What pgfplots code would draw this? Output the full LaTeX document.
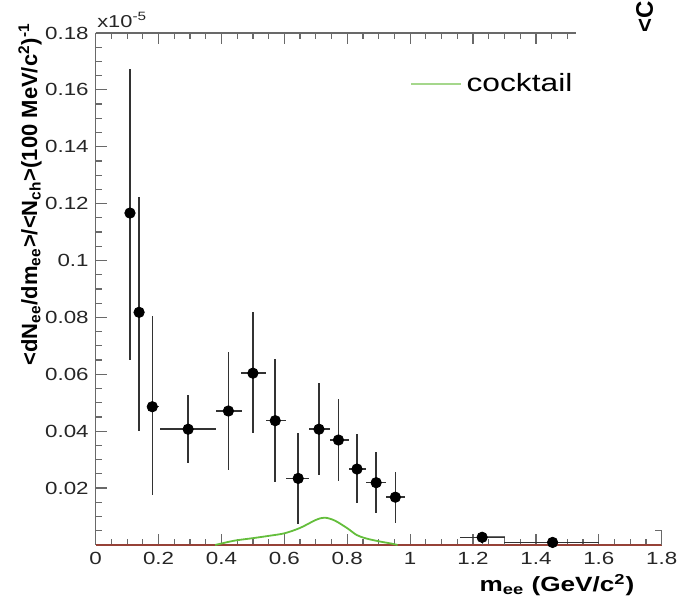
\documentclass[border=0pt]{standalone}
\usepackage{fontspec}
\setmainfont{Liberation Sans}[FakeStretch=1.27]
\newfontfamily\ylfont{Liberation Sans}
\usepackage{pgfplots}
\pgfplotsset{compat=1.18}
\usepackage{pgfplotstable}
\definecolor{axiscol}{RGB}{105,105,105}
\definecolor{zerocol}{RGB}{150,65,55}
\definecolor{cockcol}{RGB}{100,190,60}
\definecolor{leglcol}{RGB}{165,215,140}
\definecolor{errcol}{RGB}{50,50,50}

\pgfplotstableread{
x     y      exm    exp    eym    eyp
0.109 0.1167 0      0      0.0517 0.0507
0.138 0.0818 0      0      0.0416 0.0406
0.180 0.0486 0.015  0.022  0.0310 0.0320
0.294 0.0407 0.090  0.090  0.0120 0.0120
0.422 0.0471 0.038  0.043  0.0207 0.0209
0.500 0.0604 0.037  0.043  0.0211 0.0214
0.571 0.0437 0.028  0.033  0.0214 0.0217
0.644 0.0234 0.040  0.034  0.0160 0.0161
0.710 0.0407 0.032  0.034  0.0161 0.0162
0.772 0.0369 0.028  0.033  0.0144 0.0143
0.831 0.0267 0.026  0.029  0.0118 0.0122
0.892 0.0219 0.032  0.032  0.0108 0.0109
0.953 0.0168 0.029  0.032  0.0092 0.0088
1.229 0.0027 0.069  0.073  0.0020 0.0020
1.453 0.0009 0.153  0.147  0.0009 0.0010
}\datatable

\pgfplotstableread{
x     y
0.38  0.0000
0.44  0.0015
0.50  0.0024
0.55  0.0032
0.60  0.0041
0.65  0.0060
0.70  0.0088
0.728 0.0096
0.76  0.0086
0.80  0.0059
0.83  0.0035
0.86  0.0023
0.90  0.0013
0.94  0.0005
0.96  0.0000
}\cocktail

\begin{document}
\begin{tikzpicture}
\useasboundingbox (-47.85pt,-26pt) rectangle ++(338.5pt,298.5pt);
\begin{axis}[
  at={(0,0)}, anchor=south west,
  scale only axis, width=283pt, height=256pt,
  xmin=0, xmax=1.8, ymin=0, ymax=0.18,
  axis x line=bottom, axis y line=left,
  axis line style={-, draw=axiscol, line width=0.6pt},
  tick align=inside,
  xtick={0,0.2,0.4,0.6,0.8,1,1.2,1.4,1.6,1.8},
  xticklabels={0,0.2,0.4,0.6,0.8,1,1.2,1.4,1.6,1.8},
  minor x tick num=3,
  ytick={0,0.02,0.04,0.06,0.08,0.1,0.12,0.14,0.16,0.18},
  yticklabels={,0.02,0.04,0.06,0.08,0.1,0.12,0.14,0.16,0.18},
  minor y tick num=3,
  major tick length=5.5pt, minor tick length=3pt,
  tick style={color=axiscol, line width=0.6pt},
  /pgf/number format/assume math mode=true,
  tick label style={font=\fontsize{8.8}{10}\selectfont, text=black!85},
  xlabel={\textbf{m\textsubscript{ee} (GeV/c\textsuperscript{2})}},
  xlabel style={at={(axis description cs:0.815,-0.078)}, anchor=center, font=\fontsize{10.3}{12}\selectfont},
  ylabel={\textbf{<dN\textsubscript{ee}/dm\textsubscript{ee}>/<N\textsubscript{ch}>(100 MeV/c\textsuperscript{2})\textsuperscript{-1}}},
  ylabel style={at={(axis description cs:-0.116,0.685)}, anchor=center, font=\ylfont\fontsize{11}{13}\selectfont},
  clip=false,
  legend style={at={(axis cs:0.998,0.1621)}, anchor=west, draw=none, fill=none,
    inner sep=0pt, font=\fontsize{12.5}{14}\selectfont},
  legend cell align=left,
  legend image code/.code={\draw[leglcol, line width=1.3pt] (0pt,0pt) -- (25pt,0pt);},
]
\addplot[zerocol, line width=0.8pt, forget plot] coordinates {(0,0) (1.8,0)};
\addplot[cockcol, line width=0.9pt, smooth] table[x=x, y=y] {\cocktail};
\addlegendentry{cocktail}
\addplot[axiscol, line width=0.5pt, forget plot] coordinates {(1.23,0) (1.23,0.0030) (1.30,0.0030) (1.30,0)};
\addplot[only marks, mark=*, mark size=2.6pt, black, forget plot,
  error bars/.cd, x dir=both, x explicit, y dir=both, y explicit,
  error mark=none, error bar style={errcol, line width=0.75pt}]
  table[x=x, y=y, x error minus=exm, x error plus=exp, y error minus=eym, y error plus=eyp] {\datatable};
\addplot[axiscol, line width=0.6pt, forget plot] coordinates {(1.78,0.005) (1.8,0.005) (1.8,0)};
\node[anchor=base west, inner sep=0pt, font=\fontsize{8.6}{10}\selectfont, text=black!85] at ([xshift=0.6pt, yshift=2.5pt]rel axis cs:0,1) {x10\textsuperscript{-5}};
\end{axis}
\begin{axis}[
  at={(0,0)}, anchor=south west,
  scale only axis, width=283pt, height=256pt,
  xmin=0, xmax=1.8, ymin=0, ymax=0.18,
  axis x line=top, axis y line=none,
  axis line style={draw=none},
  tick align=inside,
  xtick={0,0.2,0.4,0.6,0.8,1,1.2,1.4},
  minor xtick={0.05,0.1,0.15,0.25,0.3,0.35,0.45,0.5,0.55,0.65,0.7,0.75,0.85,0.9,0.95,1.05,1.1,1.15,1.25,1.3,1.35,1.45,1.5},
  xticklabels={},
  ytick=\empty,
  major tick length=5.5pt, minor tick length=3pt,
  tick style={color=axiscol, line width=0.6pt},
]
\addplot[draw=none] coordinates {(0,0)};
\addplot[axiscol, line width=0.6pt] coordinates {(0,0.18) (1.527,0.18)};
\end{axis}
\node[rotate=90, anchor=base west, inner sep=0pt, font=\ylfont\bfseries\fontsize{12}{14}\selectfont] at (278.65pt,256pt) {<C};
\end{tikzpicture}
\end{document}
